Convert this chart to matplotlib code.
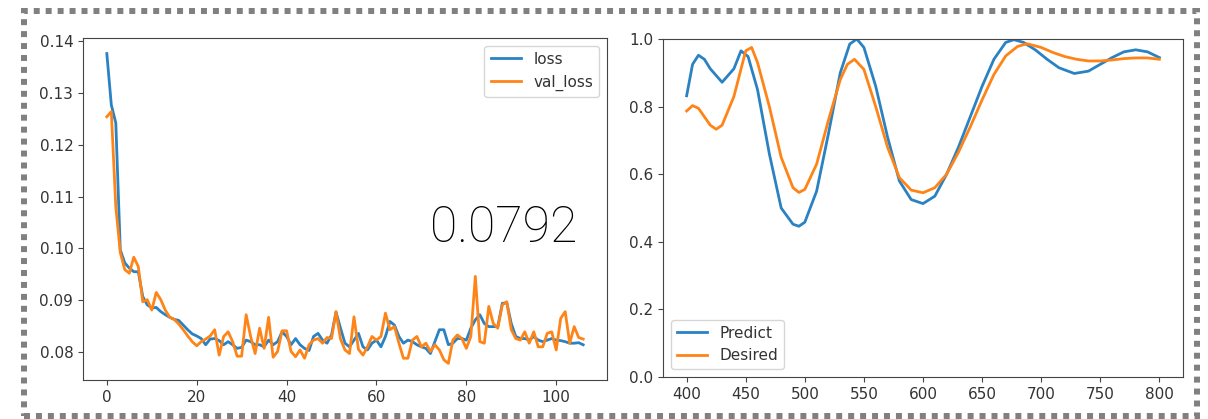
import matplotlib.pyplot as plt
import numpy as np

# training history
loss = [0.1376, 0.1277, 0.1242, 0.0997, 0.0972, 0.0962, 0.0955, 0.0955, 0.0907, 0.0891,
        0.0885, 0.0886, 0.0878, 0.0872, 0.0867, 0.0863, 0.0861, 0.0852, 0.0843, 0.0835,
        0.0831, 0.0826, 0.0814, 0.0825, 0.0826, 0.0822, 0.0814, 0.0820, 0.0814, 0.0807,
        0.0809, 0.0823, 0.0820, 0.0814, 0.0814, 0.0810, 0.0823, 0.0814, 0.0820, 0.0839,
        0.0830, 0.0814, 0.0826, 0.0814, 0.0807, 0.0803, 0.0830, 0.0836, 0.0823, 0.0817,
        0.0833, 0.0877, 0.0846, 0.0817, 0.0810, 0.0823, 0.0836, 0.0810, 0.0804, 0.0817,
        0.0823, 0.0810, 0.0830, 0.0859, 0.0852, 0.0830, 0.0817, 0.0823, 0.0820, 0.0814,
        0.0810, 0.0807, 0.0797, 0.0820, 0.0843, 0.0843, 0.0814, 0.0817, 0.0826, 0.0826,
        0.0823, 0.0846, 0.0862, 0.0872, 0.0855, 0.0849, 0.0849, 0.0849, 0.0894, 0.0895,
        0.0855, 0.0830, 0.0826, 0.0826, 0.0823, 0.0830, 0.0823, 0.0820, 0.0823, 0.0826,
        0.0823, 0.0822, 0.0820, 0.0817, 0.0817, 0.0818, 0.0814]
val_loss = [0.1254, 0.1264, 0.1080, 0.0992, 0.0959, 0.0952, 0.0983, 0.0965, 0.0897, 0.0901,
            0.0881, 0.0915, 0.0901, 0.0881, 0.0867, 0.0863, 0.0854, 0.0843, 0.0831, 0.0820,
            0.0812, 0.0820, 0.0825, 0.0831, 0.0843, 0.0794, 0.0830, 0.0839, 0.0820, 0.0792,
            0.0792, 0.0872, 0.0830, 0.0797, 0.0846, 0.0807, 0.0867, 0.0790, 0.0801, 0.0841,
            0.0841, 0.0801, 0.0791, 0.0804, 0.0788, 0.0814, 0.0823, 0.0826, 0.0817, 0.0828,
            0.0826, 0.0878, 0.0825, 0.0804, 0.0797, 0.0868, 0.0805, 0.0794, 0.0810, 0.0830,
            0.0823, 0.0830, 0.0875, 0.0843, 0.0849, 0.0817, 0.0788, 0.0788, 0.0823, 0.0830,
            0.0810, 0.0817, 0.0801, 0.0814, 0.0804, 0.0785, 0.0778, 0.0823, 0.0833, 0.0826,
            0.0807, 0.0830, 0.0946, 0.0820, 0.0817, 0.0888, 0.0855, 0.0846, 0.0891, 0.0897,
            0.0843, 0.0826, 0.0823, 0.0839, 0.0817, 0.0839, 0.0810, 0.0810, 0.0836, 0.0839,
            0.0804, 0.0865, 0.0878, 0.0817, 0.0849, 0.0828, 0.0825]

# spectrum prediction
wl_pred = [400, 405, 410, 415, 420, 430, 440, 446, 452, 460, 470, 480, 490, 495, 500, 510,
           520, 530, 538, 544, 550, 560, 570, 580, 590, 600, 610, 620, 630, 640, 650, 660,
           670, 677, 685, 695, 705, 715, 728, 740, 750, 760, 770, 780, 790, 800]
predict = [0.832, 0.925, 0.952, 0.940, 0.912, 0.872, 0.912, 0.965, 0.948, 0.850, 0.66, 0.50,
           0.452, 0.446, 0.458, 0.55, 0.72, 0.90, 0.985, 1.0, 0.975, 0.86, 0.71, 0.58, 0.525,
           0.513, 0.535, 0.60, 0.68, 0.77, 0.86, 0.94, 0.99, 0.998, 0.99, 0.968, 0.94, 0.915,
           0.898, 0.905, 0.925, 0.945, 0.962, 0.968, 0.962, 0.945]
wl_des = [400, 405, 410, 420, 425, 430, 440, 450, 455, 460, 470, 480, 490, 495, 500, 510, 520,
          530, 536, 542, 550, 560, 570, 580, 590, 600, 610, 620, 630, 640, 650, 660, 670, 680,
          688, 700, 710, 720, 730, 740, 750, 760, 770, 780, 790, 800]
desired = [0.787, 0.803, 0.795, 0.745, 0.733, 0.745, 0.830, 0.965, 0.975, 0.93, 0.80, 0.65,
           0.56, 0.546, 0.555, 0.63, 0.76, 0.88, 0.925, 0.94, 0.91, 0.80, 0.68, 0.59, 0.553,
           0.545, 0.560, 0.60, 0.665, 0.74, 0.82, 0.895, 0.95, 0.978, 0.986, 0.975, 0.96,
           0.948, 0.94, 0.935, 0.935, 0.938, 0.942, 0.944, 0.944, 0.94]

plt.rcParams['font.size'] = 11
plt.rcParams['xtick.labelcolor'] = '#333333'
plt.rcParams['ytick.labelcolor'] = '#333333'
plt.rcParams['xtick.color'] = '#444444'
plt.rcParams['ytick.color'] = '#444444'
plt.rcParams['axes.edgecolor'] = '#444444'
plt.rcParams['legend.labelcolor'] = '#333333'

fig = plt.figure(figsize=(12.08, 4.19), dpi=100)
ax1 = fig.add_axes([83/1208, 1-380/419, 524/1208, 342/419])
ax2 = fig.add_axes([663/1208, 1-377/419, 520/1208, 338/419])

ax1.plot(loss, lw=2, color='#2a82c2', label='loss')
ax1.plot(val_loss, lw=2, color='#ff8418', label='val_loss')
ax1.set_ylim(0.0746, 0.1406)
ax1.set_xticks(np.arange(0, 101, 20))
ax1.legend(loc='upper right')

ax2.plot(wl_pred, predict, lw=2, color='#2a82c2', label='Predict')
ax2.plot(wl_des, desired, lw=2, color='#ff8418', label='Desired')
ax2.set_ylim(0, 1)
ax2.set_xticks(np.arange(400, 801, 50))
ax2.legend(loc='lower left')

fig.text(430/1208, 1-242/419, '0.0792', fontsize=36, family='Roboto',
         fontweight='light', color='black', ha='left', va='baseline')

# dotted frame around the whole screenshot
border = plt.Rectangle((24/1208, 1-416/419), 1173/1208, 405/419, transform=fig.transFigure,
                       fill=False, ec='#808080', lw=4.3, ls=(0, (1, 1)))
border.set_capstyle('butt')
fig.patches.append(border)

fig.savefig('out.png', dpi=100)
